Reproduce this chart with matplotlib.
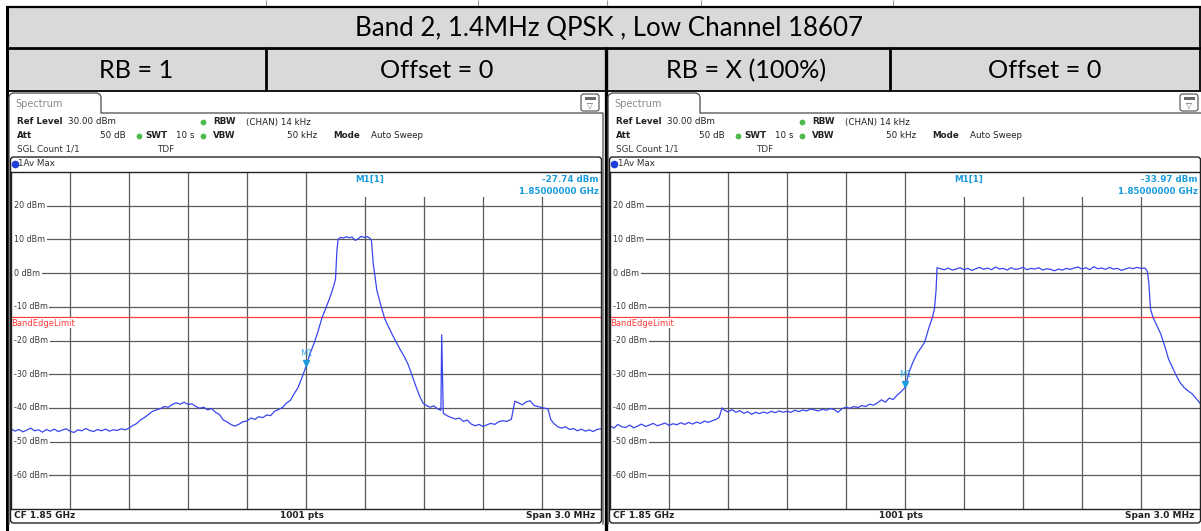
import matplotlib
matplotlib.use("Agg")
import matplotlib.pyplot as plt
from matplotlib.patches import Rectangle, FancyBboxPatch

# ==========================================================
# DATA
# ==========================================================
title = "Band 2, 1.4MHz QPSK , Low Channel 18607"
headers = ["RB = 1", "Offset = 0", "RB = X (100%)", "Offset = 0"]

level_ticks = [20, 10, 0, -10, -20, -30, -40, -50, -60]
freq_grid = [-1.2, -0.9, -0.6, -0.3, 0.0, 0.3, 0.6, 0.9, 1.2]
limit_dbm = -13
marker_freq = [0.0, 0.0]
marker_level = [-27.74, -33.97]

# offset from CF 1.85 GHz, MHz  /  dBm
rb1_freq = [
    -1.50, -1.48, -1.46, -1.44, -1.42, -1.40, -1.38, -1.36, -1.34, -1.32,
    -1.30, -1.28, -1.26, -1.24, -1.22, -1.20, -1.18, -1.16, -1.14, -1.12,
    -1.10, -1.08, -1.06, -1.04, -1.02, -1.00, -0.98, -0.96, -0.94, -0.92,
    -0.90, -0.88, -0.86, -0.84, -0.82, -0.80, -0.78, -0.76, -0.74, -0.72,
    -0.70, -0.68, -0.66, -0.64, -0.62, -0.60, -0.58, -0.56, -0.54, -0.52,
    -0.50, -0.48, -0.46, -0.44, -0.42, -0.40, -0.38, -0.36, -0.34, -0.32,
    -0.30, -0.28, -0.26, -0.24, -0.22, -0.20, -0.18, -0.16, -0.14, -0.12,
    -0.10, -0.08, -0.06, -0.04, -0.02, 0.00,
    0.02, 0.04, 0.06, 0.08, 0.10, 0.12, 0.14, 0.15, 0.157, 0.163,
    0.175, 0.19, 0.205, 0.22, 0.235, 0.25, 0.265, 0.28, 0.295, 0.31,
    0.325, 0.333, 0.342, 0.36, 0.38, 0.40, 0.42, 0.44, 0.46, 0.48,
    0.50, 0.52, 0.54, 0.56, 0.58, 0.595,
    0.61, 0.63, 0.65, 0.67, 0.686, 0.690, 0.698,
    0.72, 0.74, 0.76, 0.78, 0.80, 0.82, 0.84, 0.86, 0.88, 0.90,
    0.92, 0.94, 0.96, 0.98, 1.00, 1.02, 1.044, 1.062, 1.08, 1.10,
    1.12, 1.14, 1.16, 1.18, 1.20, 1.23, 1.245, 1.26, 1.28, 1.30,
    1.32, 1.34, 1.36, 1.38, 1.40, 1.42, 1.44, 1.46, 1.48, 1.50,
]
rb1_level = [
    -46.2, -46.9, -46.4, -47.1, -46.6, -46.0, -46.8, -46.5, -47.2, -46.4,
    -46.9, -46.3, -47.0, -46.6, -46.2, -46.9, -47.3, -46.5, -46.8, -46.1,
    -46.7, -47.0, -46.4, -46.8, -46.3, -46.9, -46.5, -46.7, -46.2, -46.5,
    -46.0, -45.2, -44.6, -43.5, -42.8, -41.9, -41.0, -40.6, -40.2, -39.6,
    -39.8, -39.0, -38.5, -38.9, -38.3, -39.0, -38.8, -39.6, -40.1, -39.8,
    -40.6, -40.2, -41.3, -42.0, -43.6, -44.2, -45.0, -45.4, -44.8, -44.1,
    -43.9, -43.0, -43.4, -42.6, -42.9, -42.1, -42.3, -41.0, -40.5, -39.9,
    -38.6, -37.8, -35.8, -33.9, -30.9, -27.74,
    -24.0, -21.0, -17.5, -13.5, -10.5, -7.5, -4.0, -1.8, 6.5, 10.0,
    10.6, 10.4, 10.8, 10.5, 10.7, 9.7, 10.2, 10.9, 10.6, 10.8,
    10.4, 9.6, 2.8, -5.0, -9.5, -13.5, -16.0, -18.4, -20.6, -22.8,
    -24.8, -27.2, -30.5, -33.8, -36.8, -38.6,
    -39.2, -39.8, -39.4, -40.3, -40.7, -18.3, -41.6,
    -42.4, -42.9, -43.3, -43.0, -44.0, -43.6, -44.8, -45.3, -44.9, -45.5,
    -45.0, -44.6, -44.9, -44.1, -43.8, -44.0, -43.4, -38.0, -38.5, -39.1,
    -38.2, -37.9, -39.3, -39.6, -39.9, -40.3, -43.5, -44.6, -45.6, -46.0,
    -45.6, -46.4, -46.1, -46.8, -46.3, -46.9, -46.5, -47.0, -46.4, -46.2,
]

full_freq = [
    -1.50, -1.48, -1.46, -1.44, -1.42, -1.40, -1.38, -1.36, -1.34, -1.32,
    -1.30, -1.28, -1.26, -1.24, -1.22, -1.20, -1.18, -1.16, -1.14, -1.12,
    -1.10, -1.08, -1.06, -1.04, -1.02, -1.00, -0.98, -0.96, -0.945, -0.93,
    -0.92, -0.90, -0.88, -0.86, -0.84, -0.82, -0.80, -0.78, -0.76, -0.74,
    -0.72, -0.70, -0.68, -0.66, -0.64, -0.62, -0.60, -0.58, -0.56, -0.54,
    -0.52, -0.50, -0.48, -0.46, -0.44, -0.42, -0.40, -0.38, -0.36, -0.34,
    -0.32, -0.30, -0.28, -0.26, -0.24, -0.22, -0.20, -0.18, -0.16, -0.14,
    -0.12, -0.10, -0.08, -0.06, -0.04, -0.02, 0.00,
    0.02, 0.04, 0.06, 0.08, 0.10, 0.12, 0.14, 0.15, 0.158, 0.163,
    0.18, 0.20, 0.22, 0.24, 0.26, 0.28, 0.30, 0.32, 0.34, 0.36,
    0.38, 0.40, 0.42, 0.44, 0.46, 0.48, 0.50, 0.52, 0.54, 0.56,
    0.58, 0.60, 0.62, 0.64, 0.66, 0.68, 0.70, 0.72, 0.74, 0.76,
    0.78, 0.80, 0.82, 0.84, 0.86, 0.88, 0.90, 0.92, 0.94, 0.96,
    0.98, 1.00, 1.02, 1.04, 1.06, 1.08, 1.10, 1.12, 1.14, 1.16,
    1.18, 1.20, 1.22, 1.232, 1.24, 1.248, 1.26, 1.28, 1.30, 1.32,
    1.34, 1.36, 1.38, 1.40, 1.42, 1.44, 1.46, 1.48, 1.50,
]
full_level = [
    -45.3, -46.0, -44.9, -45.6, -45.8, -45.1, -45.9, -45.4, -44.8, -45.5,
    -45.1, -44.6, -45.3, -44.9, -44.5, -45.2, -44.7, -45.0, -44.4, -44.9,
    -44.3, -44.8, -44.2, -44.6, -43.9, -44.3, -43.8, -43.4, -42.8, -40.0,
    -40.6, -41.2, -40.5, -41.3, -40.8, -41.6, -41.1, -41.9, -41.3, -41.7,
    -41.2, -41.6, -41.0, -41.4, -40.9, -41.3, -41.0, -41.3, -40.7, -41.1,
    -40.6, -40.9, -40.3, -40.6, -40.9, -40.4, -40.7, -40.2, -40.5, -41.3,
    -40.2, -39.8, -40.1, -39.6, -39.9, -39.3, -39.6, -38.9, -39.2, -38.5,
    -37.6, -38.3, -37.1, -37.5, -36.2, -35.2, -33.97,
    -29.5, -26.5, -24.0, -22.3, -20.5, -16.5, -13.0, -10.5, -5.0, 1.6,
    1.3, 1.0, 1.5, 0.9, 1.2, 1.6, 1.0, 1.4, 0.8, 1.3,
    1.7, 1.1, 1.5, 1.0, 1.8, 1.2, 1.4, 0.9, 1.6, 1.1,
    1.3, 1.7, 1.0, 1.4, 1.2, 1.6, 0.9, 1.3, 1.1, 0.7,
    1.2, 0.9, 1.4, 1.1, 1.5, 1.8, 1.2, 1.6, 1.0, 1.9,
    1.3, 1.5, 1.1, 1.7, 1.2, 1.4, 0.8, 1.2, 1.6, 1.3,
    1.7, 1.4, 1.5, 0.6, -3.0, -10.5, -13.0, -15.5, -18.0, -21.5,
    -25.5, -28.0, -30.5, -32.6, -34.0, -35.0, -35.8, -37.2, -38.6,
]

# ==========================================================
# STYLE
# ==========================================================
W, H = 1201, 531
TABLE_GRAY = "#d9d9d9"
TRACE = "#3a45ee"
MARK = "#1a9cdc"
FRAME = "#4a4a4a"
GREEN = "#4cbb4c"
SMALL = "DejaVu Sans"

fig = plt.figure(figsize=(W / 100, H / 100), dpi=100)
bg = fig.add_axes([0, 0, 1, 1])
bg.set_xlim(0, W)
bg.set_ylim(H, 0)
bg.axis("off")


def hline(y, x0, x1, lw, color="black"):
    bg.plot([x0, x1], [y, y], color=color, lw=lw, solid_capstyle="butt")


def vline(x, y0, y1, lw, color="black"):
    bg.plot([x, x], [y0, y1], color=color, lw=lw, solid_capstyle="butt")


# ==========================================================
# TABLE
# ==========================================================
bg.add_patch(Rectangle((8, 8), 1192, 39, fc=TABLE_GRAY, ec="none"))
bg.add_patch(Rectangle((8, 48), 1192, 42, fc=TABLE_GRAY, ec="none"))

for x in [266, 478, 607, 701, 893]:
    vline(x, 0, 6, 0.8, "#9a9a9a")

hline(7, 6, 1201, 1.6)
hline(47.5, 6, 1201, 2.0)
hline(90.5, 6, 1201, 1.3)
vline(7, 6, 531, 2.2)
vline(1199.5, 6, 91, 1.3)
vline(265.5, 47, 91, 2.0)
vline(889.5, 47, 91, 2.0)
vline(605.5, 47, 531, 2.4)

bg.text(609, 28, title, ha="center", va="center", fontsize=18.6,
        family="Lato", color="black")
for xc, txt in zip([136, 437, 746, 1045], headers):
    bg.text(xc, 71, txt, ha="center", va="center", fontsize=18.2,
            family="Lato", color="black")


# ==========================================================
# ANALYZER SCREENSHOT
# ==========================================================
def small(x, y, s, bold=False, ha="left", color="#222222", size=6.3):
    bg.text(x, y, s, ha=ha, va="center", fontsize=size, family=SMALL,
            fontweight="bold" if bold else "normal", color=color)


def draw_panel(dx, freq, level, m_freq, m_level):
    # tab + panel outline
    px = [9, 9, 10, 13, 97, 100, 101, 101, 603, 603]
    py = [524, 97, 94.5, 93, 93, 94.5, 97, 113, 113, 524]
    bg.plot([p + dx for p in px], py, color=FRAME, lw=0.9)
    small(15 + dx, 104, "Spectrum", color="#8a8a8a", size=7)

    # little menu icon
    bg.add_patch(FancyBboxPatch((581 + dx, 94), 18, 17,
                                boxstyle="round,pad=0,rounding_size=2.5",
                                fc="white", ec=FRAME, lw=0.8))
    bg.add_patch(Rectangle((584.5 + dx, 97), 11, 3, fc="#6a6a6a", ec="none"))
    small(590 + dx, 105.5, "\u25bd", ha="center", color="#555555", size=5.5)

    # header info lines
    small(17 + dx, 122, "Ref Level", bold=True)
    small(68 + dx, 122, "30.00 dBm")
    bg.plot([203 + dx], [122], "o", ms=4.2, color=GREEN, mec="none")
    small(213 + dx, 122, "RBW", bold=True)
    small(246 + dx, 122, "(CHAN) 14 kHz")

    small(17 + dx, 136, "Att", bold=True)
    small(126 + dx, 136, "50 dB", ha="right")
    bg.plot([139 + dx], [136], "o", ms=4.2, color=GREEN, mec="none")
    small(145 + dx, 136, "SWT", bold=True)
    small(176 + dx, 136, "10 s")
    bg.plot([203 + dx], [136], "o", ms=4.2, color=GREEN, mec="none")
    small(213 + dx, 136, "VBW", bold=True)
    small(317 + dx, 136, "50 kHz", ha="right")
    small(333 + dx, 136, "Mode", bold=True)
    small(371 + dx, 136, "Auto Sweep")

    small(17 + dx, 149, "SGL Count 1/1", color="#333333")
    small(157 + dx, 149, "TDF", color="#333333")

    # trace / plot / status box
    bg.add_patch(FancyBboxPatch((10.5 + dx, 157), 591, 366,
                                boxstyle="round,pad=0,rounding_size=3",
                                fc="white", ec="#222222", lw=1.0))
    bg.plot([14.5 + dx], [164], "o", ms=4.5, color="#1f3fd8", mec="#1f3fd8")
    small(18.5 + dx, 164, "1Av Max", color="#333333")

    small(14 + dx, 516, "CF 1.85 GHz", bold=True, size=6.5)
    small(302 + dx, 516, "1001 pts", bold=True, ha="center", size=6.5)
    small(595 + dx, 516, "Span 3.0 MHz", bold=True, ha="right", size=6.5)

    # plot area
    x0, x1, y0, y1 = 11 + dx, 601 + dx, 172, 509
    ax = fig.add_axes([x0 / W, 1 - y1 / H, (x1 - x0) / W, (y1 - y0) / H])
    ax.set_xlim(-1.5, 1.5)
    ax.set_ylim(-70, 30)
    ax.set_xticks(freq_grid)
    ax.set_yticks(level_ticks)
    ax.tick_params(length=0, labelbottom=False, labelleft=False)
    ax.set_axisbelow(True)
    ax.grid(True, color="#5a5a5a", lw=0.9)
    for s in ax.spines.values():
        s.set_color("#222222")
        s.set_linewidth(1.0)

    for v in level_ticks:
        ax.text(-1.486, v, f"{v} dBm", ha="left", va="center", fontsize=5.8,
                family=SMALL, color="#3a3a3a", zorder=1.2,
                bbox=dict(fc="white", ec="none", pad=1.2))

    # marker readout area
    ax.add_patch(Rectangle((0.03, 22.7), 1.5, 7.4, fc="white", ec="none",
                           zorder=1))
    ax.text(0.325, 27.9, "M1[1]", ha="center", va="center", fontsize=6.3,
            family=SMALL, color=MARK, fontweight="bold", zorder=3)
    ax.text(1.488, 27.9, f"{m_level:.2f} dBm", ha="right", va="center",
            fontsize=6.3, family=SMALL, color=MARK, fontweight="bold", zorder=3)
    ax.text(1.488, 24.1, "1.85000000 GHz", ha="right", va="center",
            fontsize=6.3, family=SMALL, color=MARK, fontweight="bold", zorder=3)

    # band edge limit
    ax.axhline(limit_dbm, color="#ff3b3b", lw=0.9, zorder=1.5)
    ax.text(-1.497, limit_dbm - 0.5, "BandEdgeLimit", ha="left", va="top",
            fontsize=6, family=SMALL, color="#ff3b3b", zorder=1.6,
            bbox=dict(fc="white", ec="none", pad=0.2))

    ax.plot(freq, level, color=TRACE, lw=0.9, zorder=2)

    ax.plot([m_freq], [m_level + 1.2], marker="v", ms=5, color=MARK,
            mec=MARK, zorder=3)
    ax.text(m_freq, m_level + 2.6, "M1", ha="center", va="bottom",
            fontsize=6, family=SMALL, color=MARK, alpha=0.85, zorder=3)
    return ax


draw_panel(0, rb1_freq, rb1_level, marker_freq[0], marker_level[0])
draw_panel(599, full_freq, full_level, marker_freq[1], marker_level[1])

fig.savefig("out.png", dpi=100)
